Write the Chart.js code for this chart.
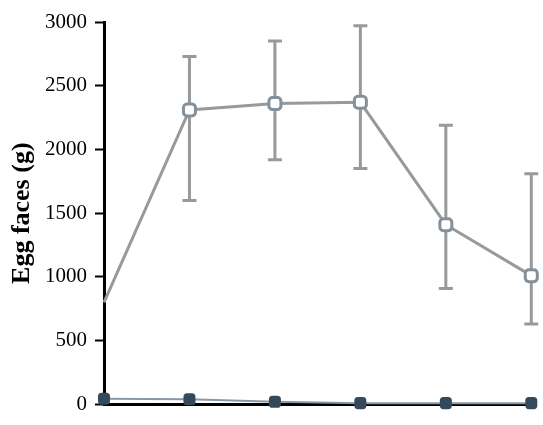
<!DOCTYPE html>
<html>
<head>
<meta charset="utf-8">
<script src="https://cdn.jsdelivr.net/npm/chart.js@4.4.0/dist/chart.umd.min.js"></script>
<style>
  html, body { margin: 0; padding: 0; background: #fff; }
  #wrap { width: 543px; height: 425px; }
</style>
</head>
<body>
<div id="wrap"><canvas id="chart1"></canvas></div>
<script>
/* data */
var xPos = [0, 1, 2, 3, 4, 5];
var eggMeans = [800, 2310, 2360, 2370, 1410, 1010];
var eggHigh = [null, 2730, 2850, 2970, 2190, 1810];
var eggLow = [null, 1600, 1920, 1850, 910, 630];
var lowSeries = [45, 40, 20, 10, 10, 10];
var yTicks = [0, 500, 1000, 1500, 2000, 2500, 3000];

var serif = "'Liberation Serif', 'DejaVu Serif', serif";

/* error bars drawn through the scales */
var errorBars = {
    id: 'errorBars',
    beforeDatasetsDraw: function (chart) {
        var ctx = chart.ctx;
        var xs = chart.scales.x, ys = chart.scales.y;
        ctx.save();
        ctx.strokeStyle = '#999999';
        ctx.lineWidth = 3;
        for (var i = 0; i < xPos.length; i++) {
            if (eggHigh[i] == null) continue;
            var px = xs.getPixelForValue(xPos[i]);
            var top = ys.getPixelForValue(eggHigh[i]);
            var bot = ys.getPixelForValue(eggLow[i]);
            ctx.beginPath();
            ctx.moveTo(px, top); ctx.lineTo(px, bot);
            ctx.moveTo(px - 7, top); ctx.lineTo(px + 7, top);
            ctx.moveTo(px - 7, bot); ctx.lineTo(px + 7, bot);
            ctx.stroke();
        }
        ctx.restore();
    }
};

var ctx = document.getElementById('chart1').getContext('2d');
var chart1 = new Chart(ctx, {
    type: 'line',
    data: {
        datasets: [{
            data: xPos.map(function (x, i) { return { x: x, y: eggMeans[i] }; }),
            borderColor: '#999999',
            borderWidth: 3,
            pointStyle: 'rectRounded',
            pointRadius: [0, 7, 7, 7, 7, 7],
            pointBorderWidth: 3,
            pointBorderColor: '#84909a',
            pointBackgroundColor: '#ffffff',
            tension: 0
        }, {
            data: xPos.map(function (x, i) { return { x: x, y: lowSeries[i] }; }),
            borderColor: '#8a98a6',
            borderWidth: 2,
            pointStyle: 'rectRounded',
            pointRadius: 7,
            pointBorderWidth: 0,
            pointBackgroundColor: '#34495a',
            tension: 0
        }]
    },
    options: {
        responsive: true,
        maintainAspectRatio: false,
        animation: false,
        clip: false,
        layout: { padding: { top: 22, right: 0, bottom: 6, left: 0 } },
        plugins: {
            legend: { display: false },
            tooltip: { enabled: false }
        },
        scales: {
            x: {
                type: 'linear',
                min: 0,
                max: 5.02,
                ticks: { display: false },
                grid: { display: false, drawTicks: false },
                border: { display: true, color: '#000', width: 3 },
                afterFit: function (s) { s.height = 0; }
            },
            y: {
                min: 0,
                max: 3000,
                afterBuildTicks: function (s) {
                    s.ticks = yTicks.map(function (v) { return { value: v }; });
                },
                ticks: {
                    color: '#000',
                    padding: 8,
                    font: { family: serif, size: 21 },
                    callback: function (v) { return String(v); }
                },
                grid: {
                    drawOnChartArea: false,
                    drawTicks: true,
                    tickLength: 9,
                    tickColor: '#000',
                    tickWidth: 2
                },
                border: { display: true, color: '#000', width: 3 },
                title: {
                    display: true,
                    text: 'Egg faces (g)',
                    color: '#000',
                    padding: { top: 7, bottom: 0 },
                    font: { family: serif, size: 26, weight: 'bold' }
                },
                afterFit: function (s) { s.width = 104; }
            }
        }
    },
    plugins: [errorBars]
});
</script>
</body>
</html>
